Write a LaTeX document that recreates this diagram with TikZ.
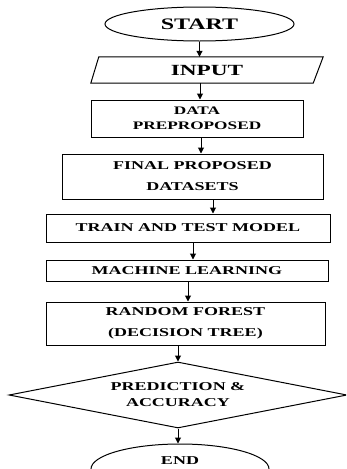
\documentclass[tikz,border=0pt]{standalone}
\usepackage{fontspec}
\setmainfont{Liberation Serif}[FakeStretch=1.5]
\usetikzlibrary{shapes.geometric,arrows.meta}
\tikzset{
  box/.style={draw, line width=1pt, inner sep=0pt, align=center, font=\bfseries\fontsize{12}{21}\selectfont},
  term/.style={draw, ellipse, line width=1pt, inner sep=0pt},
  arr/.style={line width=1pt, -{Triangle[length=6pt,width=6pt]}},
}
\begin{document}
\begin{tikzpicture}[x=1pt,y=-1pt]
\useasboundingbox (0,0) rectangle (346,469);
\clip (0,0) rectangle (346,469);
\node[term, minimum width=189, minimum height=34, font=\bfseries\fontsize{16}{16}\selectfont] (start) at (199.5,24) {START};
\node[inner sep=0pt, minimum width=222, minimum height=26, font=\bfseries\fontsize{15.5}{16}\selectfont] (input) at (207,70) {INPUT};
\draw[line width=1pt] ([xshift=3pt]input.north west) -- ([xshift=5pt]input.north east) -- ([xshift=-5pt]input.south east) -- ([xshift=-5pt]input.south west) -- cycle;
\node[box, minimum width=212, minimum height=37, font=\bfseries\fontsize{11.5}{15}\selectfont] (data) at (197,118.5) {DATA\\PREPROPOSED};
\node[box, minimum width=261, minimum height=45] (final) at (192.5,176.5) {FINAL PROPOSED\\DATASETS};
\node[box, minimum width=284, minimum height=28] (train) at (188,228) {TRAIN AND TEST MODEL};
\node[box, minimum width=282, minimum height=21] (ml) at (187,270.5) {MACHINE LEARNING};
\node[box, minimum width=279, minimum height=43] (rf) at (185.5,323.5) {RANDOM FOREST\\(DECISION TREE)};
\node[box, diamond, shape aspect=5, minimum width=338, minimum height=66, font=\bfseries\fontsize{12}{16}\selectfont] (pred) at (178,395) {PREDICTION \&\\ACCURACY};
\node[term, minimum width=178, minimum height=50] (end) at (180,469) {};
\node[inner sep=0pt, font=\bfseries\fontsize{12}{12}\selectfont] (endtxt) at (180,461) {END};
\draw[arr] (start.south) -- (start.south |- input.north);
\draw[arr] (input.south -| 200,0) -- (data.north -| 200,0);
\draw[arr] (data.south -| 201,0) -- (final.north -| 201,0);
\draw[arr] (final.south -| 213,0) -- (train.north -| 213,0);
\draw[arr] (train.south -| 193,0) -- (ml.north -| 193,0);
\draw[arr] (ml.south -| 188,0) -- (rf.north -| 188,0);
\draw[arr] (rf.south -| pred.north) -- (pred.north);
\draw[arr] (pred.south) -- (pred.south |- end.north);
\end{tikzpicture}
\end{document}
